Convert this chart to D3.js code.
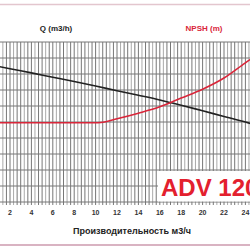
<!DOCTYPE html>
<html>
<head>
<meta charset="UTF-8">
<title>ADV 120</title>
<script src="https://cdn.jsdelivr.net/npm/d3@7"></script>
<style>
  body { margin: 0; background: #fff; }
  svg { display: block; font-family: "Liberation Sans", Arial, sans-serif; }
</style>
</head>
<body>
<svg id="chart" width="250" height="250"></svg>
<script>
// flow, m3/h
var flowTicks = [2, 4, 6, 8, 10, 12, 14, 16, 18, 20, 22, 24]
var flow = [0, 2, 4, 6, 8, 10, 12, 14, 16, 18, 20, 22, 24, 26]
// head curve (black), grid units
var head = [8.6, 8.33, 8.07, 7.8, 7.53, 7.25, 6.95, 6.67, 6.38, 6.05, 5.7, 5.35, 5.0, 4.6]
// NPSH curve (red)
var npshFlow = [0, 2, 4, 6, 8, 10, 10.5, 12, 14, 16, 18, 20, 22, 24, 26]
var npsh = [4.95, 4.95, 4.95, 4.95, 4.95, 4.95, 4.97, 5.2, 5.55, 5.95, 6.5, 7.05, 7.75, 8.7, 9.6]
var titleQ = "Q (m3/h)"
var titleNpsh = "NPSH (m)"
var xTitle = "Производительность м3/ч"
var model = "ADV 120"

var svg = d3.select("#chart")
var x = d3.scaleLinear().domain([2, 24]).range([10, 245.4])
var y = d3.scaleLinear().domain([0, 10]).range([202, 42])

// pink frame lines
svg.append("line").attr("x1", 0).attr("x2", 250).attr("y1", 4.5).attr("y2", 4.5)
  .attr("stroke", "#e3c6ce").attr("stroke-width", 1.5)
svg.append("line").attr("x1", 0).attr("x2", 250).attr("y1", 245).attr("y2", 245)
  .attr("stroke", "#d9b3c2").attr("stroke-width", 2)

// grid
var minor = d3.range(-1, 27.01, 1 / 3)
svg.append("g").selectAll("line").data(minor).join("line")
  .attr("x1", d => x(d)).attr("x2", d => x(d))
  .attr("y1", y(10)).attr("y2", y(0) + 3)
  .attr("stroke", (d, i) => i % 3 == 1 ? "#aaa" : "#777")
  .attr("stroke-width", 1)
svg.append("g").selectAll("line").data(d3.range(0, 11)).join("line")
  .attr("x1", 0).attr("x2", 250)
  .attr("y1", d => y(d)).attr("y2", d => y(d))
  .attr("stroke", "#777").attr("stroke-width", 1)

// x tick labels
svg.append("g").selectAll("text").data(flowTicks).join("text")
  .attr("x", d => x(d)).attr("y", 215)
  .attr("text-anchor", "middle").attr("font-size", 7).attr("font-weight", "bold")
  .attr("fill", "#333").text(d => d)

// curves
var line = d3.line().curve(d3.curveMonotoneX)
svg.append("path")
  .attr("d", line(flow.map((f, i) => [x(f), y(head[i])])))
  .attr("fill", "none").attr("stroke", "#222").attr("stroke-width", 1.6)
svg.append("path")
  .attr("d", line(npshFlow.map((f, i) => [x(f), y(npsh[i])])))
  .attr("fill", "none").attr("stroke", "#d9263a").attr("stroke-width", 1.6)

// titles
svg.append("text").attr("x", 56).attr("y", 31).attr("text-anchor", "middle")
  .attr("font-size", 8).attr("font-weight", "bold").attr("fill", "#222").text(titleQ)
svg.append("text").attr("x", 204).attr("y", 31).attr("text-anchor", "middle")
  .attr("font-size", 8).attr("font-weight", "bold").attr("fill", "#d9263a").text(titleNpsh)
svg.append("text").attr("x", 132).attr("y", 234).attr("text-anchor", "middle")
  .attr("font-size", 9).attr("font-weight", "bold").attr("fill", "#222").text(xTitle)

// model label box
svg.append("rect").attr("x", 158).attr("y", 171).attr("width", 92).attr("height", 30.5)
  .attr("fill", "#fff")
svg.append("text").attr("x", 161).attr("y", 195.5)
  .attr("font-size", 24).attr("font-weight", "bold").attr("fill", "#e3202e").text(model)
</script>
</body>
</html>
